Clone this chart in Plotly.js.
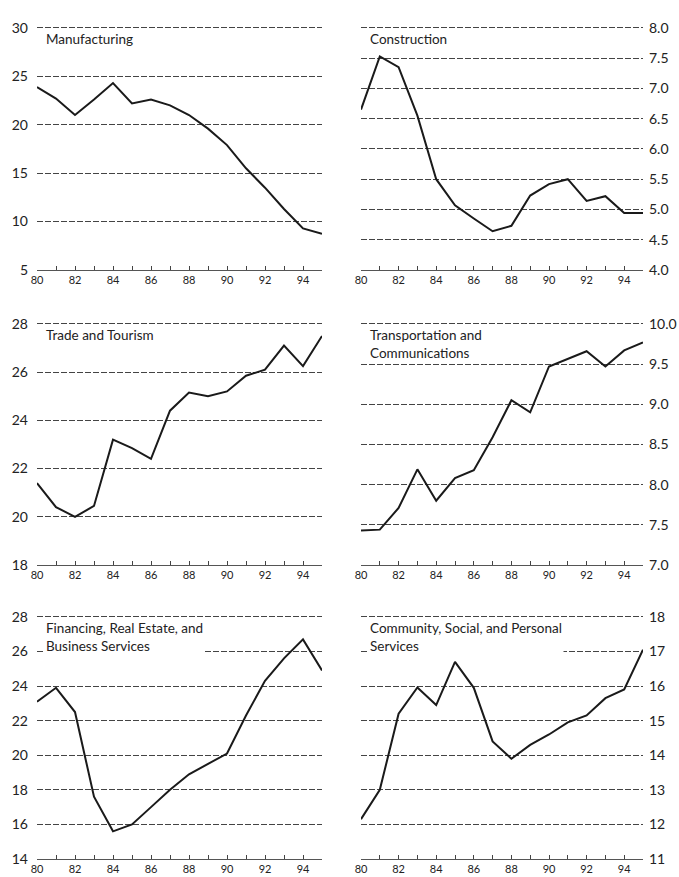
<!DOCTYPE html>
<html>
<head>
<meta charset="utf-8">
<script src="https://cdn.plot.ly/plotly-3.0.1.min.js"></script>
<style>html,body{margin:0;padding:0;background:#fff;}#chart{width:679px;height:877px;}</style>
</head>
<body>
<div id="chart"></div>
<script>
const years = [80,81,82,83,84,85,86,87,88,89,90,91,92,93,94,95];
const xTickVals = [80,81,82,83,84,85,86,87,88,89,90,91,92,93,94,95];
const xTickText = ["80","","82","","84","","86","","88","","90","","92","","94",""];

const manufacturing = [23.9,22.7,21.0,22.6,24.3,22.2,22.6,22.0,21.0,19.6,17.9,15.5,13.5,11.3,9.3,8.75];
const construction = [6.65,7.53,7.35,6.55,5.5,5.07,4.85,4.64,4.73,5.23,5.42,5.5,5.14,5.22,4.94,4.94];
const tradeTourism = [21.4,20.4,20.0,20.45,23.2,22.85,22.4,24.4,25.15,25.0,25.2,25.85,26.1,27.1,26.25,27.5];
const transportComm = [7.43,7.44,7.71,8.19,7.8,8.08,8.18,8.59,9.05,8.9,9.47,9.57,9.66,9.47,9.67,9.77];
const financing = [23.1,23.9,22.5,17.6,15.6,16.0,17.0,18.0,18.9,19.5,20.1,22.3,24.3,25.6,26.7,24.9];
const community = [12.15,13.0,15.2,15.96,15.45,16.7,15.95,14.4,13.9,14.3,14.6,14.95,15.15,15.65,15.9,17.05];

const titles = ["Manufacturing","Construction","Trade and Tourism","Transportation and<br>Communications","Financing, Real Estate, and<br>Business Services","Community, Social, and Personal<br>Services"];
const series = [manufacturing, construction, tradeTourism, transportComm, financing, community];
const yTicks = [
  [5,10,15,20,25,30],
  [4.0,4.5,5.0,5.5,6.0,6.5,7.0,7.5,8.0],
  [18,20,22,24,26,28],
  [7.0,7.5,8.0,8.5,9.0,9.5,10.0],
  [14,16,18,20,22,24,26,28],
  [11,12,13,14,15,16,17,18]
];
const yTickFmt = ["d",".1f","d",".1f","d","d"];

const W = 679, H = 877;
const colX = [[37,322],[361,643]];
const rowY = [[25,270],[321,565],[614,859]];

const font = "Lato, 'Open Sans', sans-serif";
const data = [];
const layout = {
  width: W, height: H,
  margin: {l:0, r:0, t:0, b:0},
  paper_bgcolor: "#fff", plot_bgcolor: "#fff",
  showlegend: false,
  font: {family: font, color: "#222"},
  annotations: []
};

for (let i = 0; i < 6; i++) {
  const col = i % 2, row = Math.floor(i / 2);
  const ax = i === 0 ? "" : String(i + 1);
  data.push({
    x: years, y: series[i], type: "scatter", mode: "lines",
    xaxis: "x" + ax, yaxis: "y" + ax,
    line: {color: "#1a1a1a", width: 2},
    hoverinfo: "skip"
  });
  const yt = yTicks[i];
  const ymin = yt[0], ymax = yt[yt.length - 1];
  const padTop = (ymax - ymin) * 0.012;
  layout["xaxis" + ax] = {
    domain: [colX[col][0] / W, colX[col][1] / W],
    anchor: "y" + ax,
    range: [80, 95],
    tickmode: "array", tickvals: xTickVals, ticktext: xTickText,
    ticks: "inside", ticklen: 4, tickcolor: "#444", tickwidth: 1,
    showgrid: false, zeroline: false,
    showline: true, linecolor: "#555", linewidth: 1,
    tickfont: {size: 11, color: "#222", family: font},
    fixedrange: true
  };
  layout["yaxis" + ax] = {
    domain: [1 - rowY[row][1] / H, 1 - rowY[row][0] / H],
    anchor: "x" + ax,
    side: col === 0 ? "left" : "right",
    range: [ymin, ymax + padTop],
    tickmode: "array", tickvals: yt,
    ticktext: yt.map(v => yTickFmt[i] === "d" ? String(v) : v.toFixed(1)),
    ticks: "", showgrid: true,
    gridcolor: "#444", gridwidth: 1, griddash: "6px,2px",
    zeroline: false, showline: false,
    ticklabelstandoff: col === 0 ? 8 : 5,
    tickfont: {size: 14, color: "#222", family: font},
    fixedrange: true
  };
  layout.annotations.push({
    xref: "x" + ax + " domain", yref: "y" + ax + " domain",
    x: 0.025, y: 0.985, xanchor: "left", yanchor: "top",
    text: titles[i], showarrow: false, align: "left",
    bgcolor: "#fff",
    font: {size: 13.5, color: "#222", family: font}
  });
}

Plotly.newPlot("chart", data, layout, {staticPlot: true});
</script>
</body>
</html>
